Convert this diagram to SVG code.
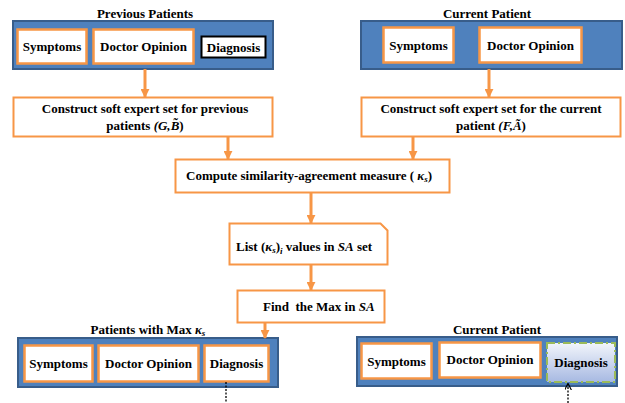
<svg xmlns="http://www.w3.org/2000/svg" width="625" height="403" viewBox="0 0 625 403">
<defs>
<style>
text{font-family:"Liberation Serif","Times New Roman",serif;font-weight:bold;fill:#000;}
.t{font-size:13px;text-anchor:middle;}
.s{font-size:13px;}
.panel{fill:#4F81BD;stroke:#385D8A;stroke-width:2;}
.ob{fill:#fff;stroke:#F79646;stroke-width:2.5;}
.proc{fill:#fff;stroke:#F79646;stroke-width:2;}
.ln{stroke:#F79646;stroke-width:3;fill:none;}
.dot{stroke:#000;stroke-width:1.3;stroke-dasharray:2 1.5;fill:none;}
</style>
<marker id="oa" viewBox="0 0 10 10" refX="9" refY="5" markerWidth="3" markerHeight="3" orient="auto" markerUnits="strokeWidth">
<path d="M0,0L10,5L0,10z" fill="#F79646"/>
</marker>
<marker id="ka" viewBox="0 0 10 10" refX="9" refY="5" markerWidth="7" markerHeight="7" orient="auto" markerUnits="userSpaceOnUse">
<path d="M0,0L10,5L0,10" fill="none" stroke="#000" stroke-width="1.6"/>
</marker>
<linearGradient id="dg" x1="0" y1="0" x2="0" y2="1">
<stop offset="0" stop-color="#F2F5FB"/>
<stop offset="1" stop-color="#A7B9E2"/>
</linearGradient>
</defs>

<g id="prev-patients">
<text x="145" y="18" class="t">Previous Patients</text>
<rect class="panel" x="13" y="21" width="260" height="48"/>
<rect class="ob" x="17.5" y="29.5" width="69" height="34"/>
<text x="52" y="51" class="t">Symptoms</text>
<rect class="ob" x="93.5" y="29.5" width="100" height="34"/>
<text x="143.5" y="51" class="t">Doctor Opinion</text>
<rect x="201.5" y="36.5" width="64" height="21" fill="#fff" stroke="#000" stroke-width="2"/>
<text x="233.5" y="51.5" class="t">Diagnosis</text>
</g>

<g id="current-patient-top">
<text x="487" y="18" class="t">Current Patient</text>
<rect class="panel" x="361" y="21" width="261" height="48"/>
<rect class="ob" x="383.5" y="27.5" width="70" height="35"/>
<text x="418.5" y="49.5" class="t">Symptoms</text>
<rect class="ob" x="479.5" y="27.5" width="102" height="35"/>
<text x="530.5" y="49.5" class="t">Doctor Opinion</text>
</g>

<g id="construct-prev">
<rect class="proc" x="13.5" y="97.5" width="259" height="39"/>
<text x="145" y="113" class="t">Construct soft expert set for previous</text>
<text x="145" y="129.5" class="t">patients <tspan font-style="italic">(G,</tspan><tspan font-style="italic">B̃</tspan><tspan>)</tspan></text>
</g>

<g id="construct-cur">
<rect class="proc" x="361.5" y="97.5" width="259" height="39"/>
<text x="491" y="113" class="t">Construct soft expert set for the current</text>
<text x="491" y="129.5" class="t">patient <tspan font-style="italic">(F,</tspan><tspan font-style="italic">Ã</tspan><tspan>)</tspan></text>
</g>

<g id="compute">
<rect class="proc" x="175.5" y="159.5" width="274" height="33"/>
<text x="186" y="180" class="s">Compute similarity-agreement measure ( <tspan font-style="italic">κ</tspan><tspan font-style="italic" font-size="9" dy="2">s</tspan><tspan dy="-2">)</tspan></text>
</g>

<g id="list">
<path class="proc" d="M229.5,223.5H380.5L387.5,230.5V264.5H229.5Z"/>
<text x="236" y="251" class="s">List (<tspan font-style="italic">κ</tspan><tspan font-style="italic" font-size="9" dy="2">s</tspan><tspan dy="-2">)</tspan><tspan font-style="italic" font-size="9" dy="3">i</tspan><tspan dy="-3"> values in </tspan><tspan font-style="italic">SA</tspan> set</text>
</g>

<g id="find">
<rect class="proc" x="237.5" y="290.5" width="147" height="32"/>
<text x="263" y="311" class="s" xml:space="preserve">Find  the Max in <tspan font-style="italic">SA</tspan></text>
</g>

<g id="patients-max">
<text x="148" y="334" class="t">Patients with Max <tspan font-style="italic">κ</tspan><tspan font-style="italic" font-size="9" dy="2">s</tspan></text>
<rect class="panel" x="18" y="338" width="260" height="49"/>
<rect class="ob" x="24.5" y="345.5" width="68" height="36"/>
<text x="58.5" y="368" class="t">Symptoms</text>
<rect class="ob" x="98.5" y="345.5" width="100" height="36"/>
<text x="148.5" y="368" class="t">Doctor Opinion</text>
<rect class="ob" x="204.5" y="345.5" width="64" height="36"/>
<text x="236.5" y="368" class="t">Diagnosis</text>
</g>

<g id="current-patient-bottom">
<text x="497" y="334" class="t">Current Patient</text>
<rect class="panel" x="357" y="337" width="260" height="49"/>
<rect class="ob" x="361.5" y="343.5" width="70" height="35"/>
<text x="396.5" y="366" class="t">Symptoms</text>
<rect class="ob" x="439.5" y="342.5" width="101" height="35"/>
<text x="490" y="364" class="t">Doctor Opinion</text>
<rect x="547" y="343" width="68" height="39" fill="url(#dg)" stroke="#9BBB59" stroke-width="2" stroke-dasharray="8 3 2 3"/>
<text x="581" y="367" class="t">Diagnosis</text>
</g>

<g id="connectors">
<line class="ln" x1="145" y1="69" x2="145" y2="97" marker-end="url(#oa)"/>
<line class="ln" x1="489" y1="69" x2="489" y2="97" marker-end="url(#oa)"/>
<line class="ln" x1="228" y1="137" x2="228" y2="159" marker-end="url(#oa)"/>
<line class="ln" x1="413" y1="137" x2="413" y2="159" marker-end="url(#oa)"/>
<line class="ln" x1="311" y1="193" x2="311" y2="223" marker-end="url(#oa)"/>
<line class="ln" x1="311" y1="265" x2="311" y2="290" marker-end="url(#oa)"/>
<line class="ln" x1="265" y1="323" x2="265" y2="338" marker-end="url(#oa)"/>
<line class="dot" x1="226" y1="382" x2="226" y2="403"/>
<line class="dot" x1="568" y1="403" x2="568" y2="384" marker-end="url(#ka)"/>
</g>
</svg>
